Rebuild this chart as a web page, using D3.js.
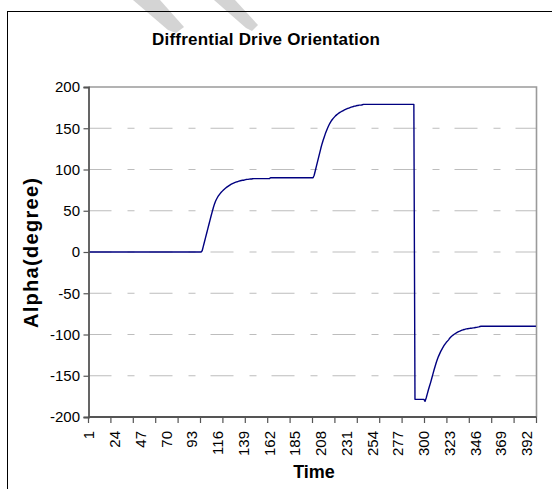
<!DOCTYPE html>
<html><head><meta charset="utf-8">
<script src="https://cdn.jsdelivr.net/npm/d3@7"></script>
<style>body{margin:0;background:#fff} svg{display:block}</style>
</head><body><svg id="c" width="552" height="489"></svg>
<script>
const chartTitle = "Diffrential Drive Orientation";
const xTitle = "Time";
const yTitle = "Alpha(degree)";
const times = d3.range(1, 401);
const alpha = [
0,0,0,0,0,0,0,0,0,0,0,0,0,0,0,0,0,0,0,0,
0,0,0,0,0,0,0,0,0,0,0,0,0,0,0,0,0,0,0,0,
0,0,0,0,0,0,0,0,0,0,0,0,0,0,0,0,0,0,0,0,
0,0,0,0,0,0,0,0,0,0,0,0,0,0,0,0,0,0,0,0,
0,0,0,0,0,0,0,0,0,0,0,0,0,0,0,0,0,0,0,0,
0,
1.5,6.8,12.1,17.4,22.7,28,33.3,38.6,43.9,49,54,58.3,61.8,64.5,67,69,70.8,72.4,73.8,75.2,
76.4,77.5,78.6,79.6,80.5,81.4,82.2,82.9,83.5,84.1,84.6,85.1,85.5,86,86.4,86.7,87,87,87.5,87.8,
88,88,88.3,88.5,88.5,88.8,89,89,
89,89,89,89,89,89,89,89,89,89,89,89,89,
90,90,90,90,90,90,90,90,90,90,90,90,90,90,90,90,90,90,90,90,
90,90,90,90,90,90,90,90,90,90,90,90,90,90,90,90,90,90,90,
93,98.5,104,109.5,115,120.5,126,131,135.5,139.5,143.5,147,150.3,153.3,156,158.3,160.3,162,163.5,165,
166.2,167.3,168.3,169.2,170,170.8,171.5,172.2,172.8,173.4,174,174.5,175,175.5,176,176.4,176.8,177,177.5,177.5,
178,178,178,178.5,
179,179,179,179,179,179,179,179,179,179,179,179,179,179,179,179,179,179,179,179,
179,179,179,179,179,179,179,179,179,179,179,179,179,179,179,179,179,179,179,179,
179,179,179,179,179,179,
-178.6,-178.6,-178.6,-178.6,-178.6,-178.6,-178.6,-178.6,-178.6,
-181,
-177,-172,-167,-162.5,-158,-153,-148,-143,-138.5,-134,-130,-126.5,-123.5,-120.5,-118,-115.5,-113.3,-111.3,-109.5,-108,
-106.5,-104.5,-103,-101.8,-100.7,-99.7,-98.8,-98,-97.2,-96.5,-96,-95.3,-94.8,-94.3,-94,-93.5,-93.2,-93,-92.8,-92.5,
-92.5,-92.3,-92,-91.8,-91.5,-91.3,-91,-90.8,-90.3,
-90,-90,-90,-90,-90,-90,-90,-90,-90,-90,-90,-90,-90,-90,-90,-90,-90,-90,-90,-90,
-90,-90,-90,-90,-90,-90,-90,-90,-90,-90,-90,-90,-90,-90,-90,-90,-90,-90,-90,-90,
-90,-90,-90,-90,-90,-90,-90,-90,-90,-90
];
const yTickValues = [-200,-150,-100,-50,0,50,100,150,200];
const xTickLabels = [1,24,47,70,93,116,139,162,185,208,231,254,277,300,323,346,369,392];
const xTickMarkEvery = 20;

const svg = d3.select("#c");
const L = 88.5, R = 536.5, T = 87, B = 417;
const font = "'Liberation Sans', Arial, sans-serif";

// watermark fragments at top
svg.append("polygon").attr("points","133,0 160,0 184,27 176,33 168,30").attr("fill","#d4d4d4");
svg.append("polygon").attr("points","214,0 235,0 258,25 252,31 246,28").attr("fill","#d4d4d4");

// outer border
svg.append("rect").attr("x",7.5).attr("y",11.5).attr("width",700).attr("height",700)
  .attr("fill","none").attr("stroke","#000").attr("stroke-width",1);

const x = d3.scaleBand().domain(times).range([L, R]).padding(0);
const bw = x.bandwidth();
const y = d3.scaleLinear().domain([-200, 200]).range([B, T]);

// gridlines
svg.append("g").selectAll("line").data(yTickValues.filter(v => v > -200 && v < 200)).join("line")
  .attr("x1", L).attr("x2", R).attr("y1", d => y(d)).attr("y2", d => y(d))
  .attr("stroke", "#bdbdbd").attr("stroke-width", 1).attr("stroke-dasharray", "23,16,7,15");

// plot frame top/right
svg.append("path").attr("d", `M${L},${T}H${R}V${B}`).attr("fill","none")
  .attr("stroke","#9a9a9a").attr("stroke-width",1.6);

// data line
const line = d3.line().x((d, i) => x(times[i]) + bw / 2).y(d => y(d));
svg.append("path").datum(alpha).attr("d", line).attr("fill","none")
  .attr("stroke","#000080").attr("stroke-width",1.4).attr("stroke-linejoin","round");

// y axis
const yAxis = d3.axisLeft(y).tickValues(yTickValues).tickSize(5).tickPadding(4).tickFormat(d => String(d));
const gy = svg.append("g").attr("transform", `translate(${L},0)`).call(yAxis);
gy.select(".domain").attr("stroke","#555").attr("stroke-width",1.8);
gy.selectAll(".tick line").attr("stroke","#555").attr("stroke-width",1.2);
gy.selectAll(".tick text").attr("font-family", font).attr("font-size", 15).attr("fill","#000")
  .attr("x", -8.5);

// x axis: tick marks every 20 categories, labels every 23
const bx = svg.append("g");
bx.append("line").attr("x1", L).attr("x2", R).attr("y1", B).attr("y2", B)
  .attr("stroke","#555").attr("stroke-width",1.8);
const markIdx = d3.range(0, times.length + 1, xTickMarkEvery);
bx.selectAll("line.tk").data(markIdx).join("line").attr("class","tk")
  .attr("x1", d => d < times.length ? x(times[d]) : R)
  .attr("x2", d => d < times.length ? x(times[d]) : R)
  .attr("y1", B).attr("y2", B + 6).attr("stroke","#555").attr("stroke-width",1.2);
bx.selectAll("text").data(xTickLabels).join("text")
  .attr("transform", d => `translate(${x(d) + bw / 2},431) rotate(-90)`)
  .attr("text-anchor","end").attr("dy","0.35em")
  .attr("font-family", font).attr("font-size", 15).attr("fill","#000")
  .text(d => d);

// titles
svg.append("text").attr("x", 266).attr("y", 45).attr("text-anchor","middle")
  .attr("font-family", font).attr("font-size", 17).attr("font-weight","bold")
  .attr("textLength", 228).attr("lengthAdjust","spacing").text(chartTitle);
svg.append("text").attr("x", 314).attr("y", 478).attr("text-anchor","middle")
  .attr("font-family", font).attr("font-size", 18).attr("font-weight","bold")
  .text(xTitle);
svg.append("text").attr("transform","translate(38,253) rotate(-90)").attr("text-anchor","middle")
  .attr("font-family", font).attr("font-size", 20).attr("font-weight","bold")
  .attr("textLength", 150).attr("lengthAdjust","spacing").text(yTitle);
</script></body></html>
